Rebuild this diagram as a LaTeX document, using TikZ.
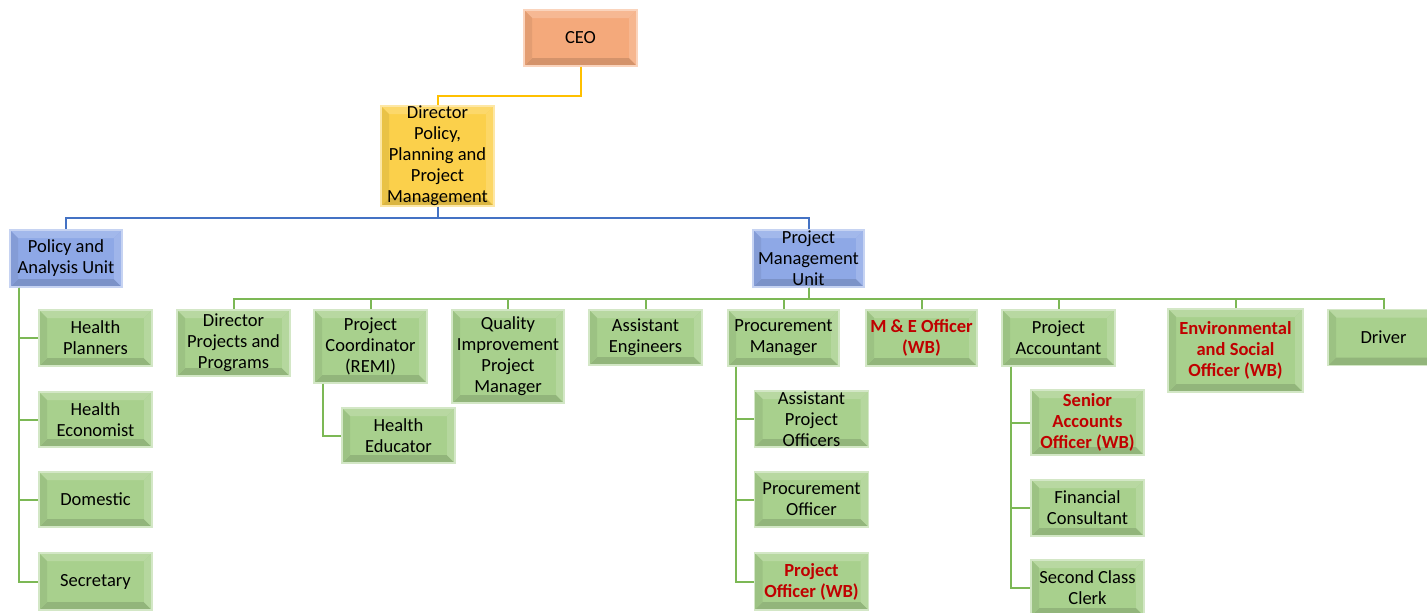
\documentclass[tikz,border=0pt]{standalone}
\usepackage{fontspec}
\setmainfont{Carlito}
\usetikzlibrary{positioning, calc}
\definecolor{ocCeo}{HTML}{F4A97B}
\definecolor{ocDir}{HTML}{FBD04B}
\definecolor{ocUnit}{HTML}{8EA8E6}
\definecolor{ocPost}{HTML}{A8D08D}
\definecolor{ocGold}{HTML}{FFC000}
\definecolor{ocBlue}{HTML}{4472C4}
\definecolor{ocGreen}{HTML}{7CB855}
\definecolor{ocRed}{HTML}{C00000}

\begin{document}
\begin{tikzpicture}[
  x=1pt, y=-1pt,
  post/.style={fill=#1, draw=#1!50!white, line width=1.4pt, align=center,
               inner sep=0pt, text=black,
               font=\fontsize{18.5}{21}\selectfont,
               path picture={
                 \coordinate (nw) at (path picture bounding box.north west);
                 \coordinate (ne) at (path picture bounding box.north east);
                 \coordinate (sw) at (path picture bounding box.south west);
                 \coordinate (se) at (path picture bounding box.south east);
                 \fill[#1!82!white] (nw) -- (ne) -- ([xshift=-8pt,yshift=-8pt]ne)
                   -- ([xshift=8pt,yshift=-8pt]nw) -- cycle;
                 \fill[#1!87!black] (sw) -- (se) -- ([xshift=-8pt,yshift=8pt]se)
                   -- ([xshift=8pt,yshift=8pt]sw) -- cycle;
                 \fill[#1!93!black] (nw) -- ([xshift=8pt,yshift=-8pt]nw)
                   -- ([xshift=8pt,yshift=8pt]sw) -- (sw) -- cycle;
                 \fill[#1!85!white] (ne) -- ([xshift=-8pt,yshift=-8pt]ne)
                   -- ([xshift=-8pt,yshift=8pt]se) -- (se) -- cycle;
               }},
  wb/.style={text=ocRed, font=\fontsize{18.5}{21}\selectfont\bfseries},
  link/.style={draw=#1, line width=2pt}
]
  \useasboundingbox (0,0) rectangle (1427,613);

  % Top
  \node[post=ocCeo, minimum width=113pt, minimum height=56pt] (ceo) at (580.5,38) {CEO};
  \node[post=ocDir, minimum width=113pt, minimum height=98pt] (dir) at (437.5,156)
    {Director\\Policy,\\Planning and\\Project\\Management};

  % Units
  \node[post=ocUnit, minimum width=112pt, minimum height=57pt] (pau) at (66,258.5)
    {Policy and\\Analysis Unit};
  \node[post=ocUnit, minimum width=111pt, minimum height=57pt] (pmu) at (808.5,258.5)
    {Project\\Management\\Unit};

  % Policy and Analysis Unit staff
  \node[post=ocPost, minimum width=113pt, minimum height=56pt] (hpl) at (95.5,338) {Health\\Planners};
  \node[post=ocPost, minimum width=113pt, minimum height=55pt] (hec) at (95.5,419.5) {Health\\Economist};
  \node[post=ocPost, minimum width=113pt, minimum height=55pt] (dom) at (95.5,499.5) {Domestic};
  \node[post=ocPost, minimum width=113pt, minimum height=57pt] (sec) at (95.5,581.5) {Secretary};

  % Project Management Unit staff
  \node[post=ocPost, minimum width=113pt, minimum height=66pt] (dpp) at (233.5,343)
    {Director\\Projects and\\Programs};
  \node[post=ocPost, minimum width=113pt, minimum height=73pt] (pco) at (370.5,346.5)
    {Project\\Coordinator\\(REMI)};
  \node[post=ocPost, minimum width=112pt, minimum height=93pt] (qip) at (508,356.5)
    {Quality\\Improvement\\Project\\Manager};
  \node[post=ocPost, minimum width=113pt, minimum height=55pt] (aen) at (645.5,337.5)
    {Assistant\\Engineers};
  \node[post=ocPost, minimum width=111pt, minimum height=56pt] (prm) at (783.5,338)
    {Procurement\\Manager};
  \node[post=ocPost, wb, minimum width=111pt, minimum height=56pt] (meo) at (921.5,338)
    {M \& E Officer\\(WB)};
  \node[post=ocPost, minimum width=113pt, minimum height=56pt] (pac) at (1058.5,338)
    {Project\\Accountant};
  \node[post=ocPost, wb, minimum width=135pt, minimum height=83pt] (eso) at (1235.5,350.5)
    {Environmental\\and Social\\Officer (WB)};
  \node[post=ocPost, minimum width=111pt, minimum height=56pt] (drv) at (1383.5,337.5) {Driver};

  % Second level
  \node[post=ocPost, minimum width=113pt, minimum height=55pt] (hed) at (398.5,435.5)
    {Health\\Educator};
  \node[post=ocPost, minimum width=114pt, minimum height=56pt] (apo) at (811.5,419)
    {Assistant\\Project\\Officers};
  \node[post=ocPost, minimum width=114pt, minimum height=55pt] (pro) at (811.5,499.5)
    {Procurement\\Officer};
  \node[post=ocPost, wb, minimum width=114pt, minimum height=57pt] (pow) at (811.5,581.5)
    {Project\\Officer (WB)};
  \node[post=ocPost, wb, minimum width=113pt, minimum height=65pt] (sao) at (1087.5,422.5)
    {Senior\\Accounts\\Officer (WB)};
  \node[post=ocPost, minimum width=113pt, minimum height=56pt] (fco) at (1087.5,508)
    {Financial\\Consultant};
  \node[post=ocPost, minimum width=113pt, minimum height=56pt] (scc) at (1087.5,588)
    {Second Class\\Clerk};

  % Connectors
  \draw[link=ocGold] (ceo.south) -- ++(0,29) -| (dir.north);
  \draw[link=ocBlue] (dir.south) -- ++(0,11) -| (pau.north);
  \draw[link=ocBlue] (dir.south) -- ++(0,11) -| (pmu.north);
  \foreach \n in {dpp,pco,qip,aen,prm,meo,pac,eso,drv}
    \draw[link=ocGreen] (pmu.south) -- ++(0,11) -| (\n.north);
  \foreach \n in {hpl,hec,dom,sec}
    \draw[link=ocGreen] ([xshift=10pt]pau.south west) |- (\n.west);
  \draw[link=ocGreen] ([xshift=10pt]pco.south west) |- (hed.west);
  \foreach \n in {apo,pro,pow}
    \draw[link=ocGreen] ([xshift=9pt]prm.south west) |- (\n.west);
  \foreach \n in {sao,fco,scc}
    \draw[link=ocGreen] ([xshift=10pt]pac.south west) |- (\n.west);
\end{tikzpicture}
\end{document}
